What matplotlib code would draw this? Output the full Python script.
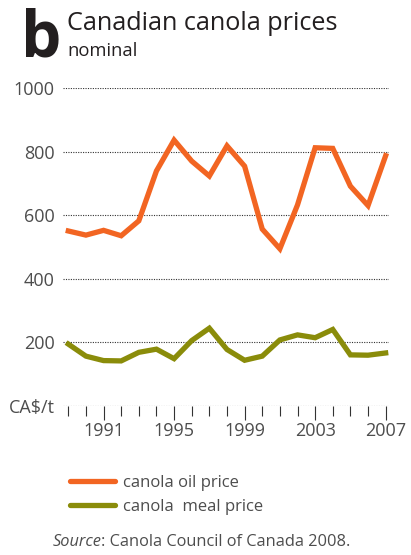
import matplotlib
matplotlib.use("Agg")
import matplotlib.pyplot as plt

plt.rcParams["font.family"] = ["Open Sans", "DejaVu Sans"]

years = list(range(1989, 2008))
oil_price = [550, 537, 552, 535, 582, 739, 836, 770, 723, 818, 754,
             556, 494, 632, 812, 810, 691, 630, 787]
meal_price = [194, 156, 142, 141, 168, 178, 148, 205, 244, 177, 143,
              156, 207, 223, 214, 240, 160, 159, 166]
y_ticks = [0, 200, 400, 600, 800, 1000]
y_labels = ["CA$/t", "200", "400", "600", "800", "1000"]
label_years = [1991, 1995, 1999, 2003, 2007]

oil_color = "#f26522"
meal_color = "#8a8c0a"
text_color = "#4d4d4d"

fig = plt.figure(figsize=(4.11, 5.55), dpi=100)
ax = fig.add_axes([0.1533, 0.269, 0.7932, 0.5724])

for v in y_ticks:
    ax.axhline(v, color="#333333", lw=0.8, ls=(0, (1, 1.2)), zorder=1)

ax.plot(years, oil_price, color=oil_color, lw=3.8, solid_joinstyle="miter",
        label="canola oil price", zorder=3)
ax.plot(years, meal_price, color=meal_color, lw=3.8, solid_joinstyle="miter",
        label="canola  meal price", zorder=3)

ax.set_xlim(1988.70, 2007.19)
ax.set_ylim(0, 1000)
for s in ax.spines.values():
    s.set_visible(False)

ax.set_yticks(y_ticks)
ax.set_yticklabels(y_labels)
ax.tick_params(axis="y", length=0, pad=6, labelsize=13, labelcolor=text_color)

ax.set_xticks(label_years)
ax.set_xticklabels([str(y) for y in label_years])
ax.set_xticks([y for y in years if y not in label_years], minor=True)
ax.tick_params(axis="x", which="major", length=10, width=0.8, color="#333333",
               pad=2, labelsize=13, labelcolor=text_color)
ax.tick_params(axis="x", which="minor", length=7, width=0.8, color="#333333")

fig.text(0.052, 0.899, "b", fontsize=46, fontweight="bold", color="#231f20",
         va="baseline", ha="left")
fig.text(0.163, 0.946, "Canadian canola prices", fontsize=18.2, color="#231f20",
         va="baseline", ha="left")
fig.text(0.163, 0.899, "nominal", fontsize=13.2, color="#231f20",
         va="baseline", ha="left")

leg = fig.legend(loc="center left", bbox_to_anchor=(0.155, 0.108), frameon=False,
                 fontsize=12, labelcolor=text_color, handlelength=2.7,
                 handletextpad=0.45, labelspacing=0.45, borderaxespad=0)
for h in leg.get_lines():
    h.set_solid_capstyle("round")

src = fig.text(0.127, 0.016, "Source", fontsize=11.8, style="italic",
               color=text_color, va="baseline", ha="left")
ax.annotate(": Canola Council of Canada 2008.", xy=(1, 0), xycoords=src,
            fontsize=11.8, color=text_color, va="bottom", ha="left",
            annotation_clip=False)

fig.savefig("out.png", dpi=100)
